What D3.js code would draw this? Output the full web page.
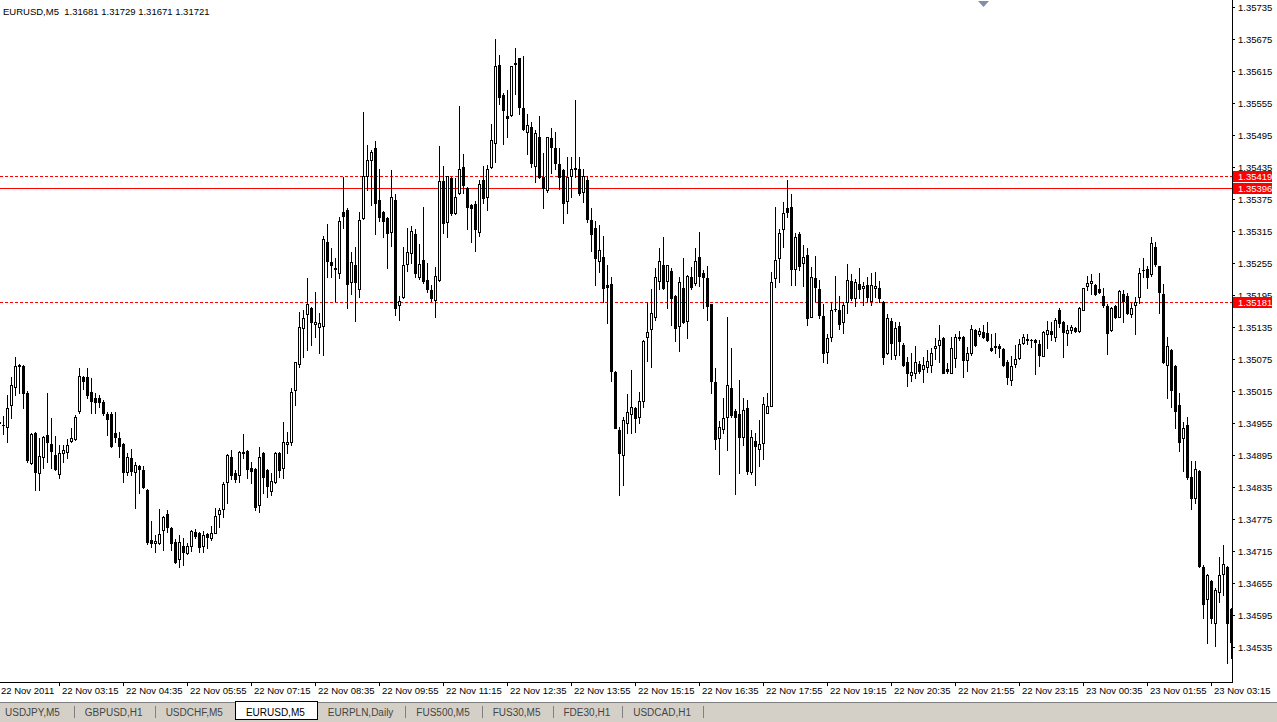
<!DOCTYPE html>
<html>
<head>
<meta charset="utf-8">
<script src="https://cdn.jsdelivr.net/npm/d3@7"></script>
<style>
  body { margin: 0; background: #fff; overflow: hidden; }
  svg text { font-family: "Liberation Sans", Arial, sans-serif; }
</style>
</head>
<body>
<svg id="chart" width="1277" height="722"></svg>
<script>
// EURUSD M5 bars
const opens = [
  1.34955, 1.34951, 1.34947, 1.34989, 1.35022, 1.35062, 1.35062, 1.35012, 1.34880, 1.34936,
  1.34861, 1.34891, 1.34932, 1.34916, 1.34895, 1.34859, 1.34899, 1.34901, 1.34921, 1.34925,
  1.34977, 1.35041, 1.35041, 1.35013, 1.35002, 1.35002, 1.34994, 1.34972, 1.34972, 1.34936,
  1.34927, 1.34916, 1.34863, 1.34889, 1.34863, 1.34874, 1.34867, 1.34829, 1.34736, 1.34730,
  1.34730, 1.34754, 1.34784, 1.34758, 1.34732, 1.34700, 1.34724, 1.34711, 1.34724, 1.34751,
  1.34749, 1.34724, 1.34747, 1.34739, 1.34749, 1.34784, 1.34794, 1.34844, 1.34891, 1.34861,
  1.34857, 1.34899, 1.34902, 1.34871, 1.34869, 1.34801, 1.34899, 1.34867, 1.34827, 1.34844,
  1.34899, 1.34871, 1.34916, 1.34919, 1.35017, 1.35066, 1.35133, 1.35159, 1.35171, 1.35141,
  1.35135, 1.35137, 1.35294, 1.35257, 1.35246, 1.35236, 1.35351, 1.35354, 1.35219, 1.35251,
  1.35206, 1.35339, 1.35418, 1.35448, 1.35471, 1.35373, 1.35351, 1.35339, 1.35313, 1.35373,
  1.35176, 1.35191, 1.35253, 1.35274, 1.35309, 1.35229, 1.35261, 1.35223, 1.35204, 1.35186,
  1.35223, 1.35409, 1.35332, 1.35414, 1.35349, 1.35386, 1.35435, 1.35396, 1.35364, 1.35366,
  1.35313, 1.35411, 1.35379, 1.35435, 1.35480, 1.35626, 1.35570, 1.35531, 1.35532, 1.35629,
  1.35639, 1.35546, 1.35501, 1.35510, 1.35437, 1.35491, 1.35416, 1.35392, 1.35489, 1.35471,
  1.35441, 1.35429, 1.35371, 1.35418, 1.35432, 1.35431, 1.35388, 1.35411, 1.35336, 1.35321,
  1.35259, 1.35266, 1.35214, 1.35216, 1.35051, 1.34942, 1.34895, 1.34955, 1.34972, 1.34983,
  1.34966, 1.34996, 1.35116, 1.35131, 1.35154, 1.35221, 1.35251, 1.35221, 1.35240, 1.35193,
  1.35137, 1.35208, 1.35146, 1.35229, 1.35217, 1.35266, 1.35236, 1.35227, 1.35178, 1.35032,
  1.34927, 1.34944, 1.34966, 1.35021, 1.34977, 1.34972, 1.34929, 1.34983, 1.34863, 1.34921,
  1.34906, 1.34917, 1.34974, 1.34987, 1.35227, 1.35264, 1.35319, 1.35358, 1.35360, 1.35244,
  1.35309, 1.35255, 1.35270, 1.35154, 1.35227, 1.35206, 1.35156, 1.35088, 1.35116, 1.35168,
  1.35167, 1.35144, 1.35182, 1.35221, 1.35189, 1.35216, 1.35208, 1.35214, 1.35184, 1.35208,
  1.35208, 1.35182, 1.35086, 1.35146, 1.35082, 1.35137, 1.35101, 1.35069, 1.35045, 1.35049,
  1.35066, 1.35056, 1.35060, 1.35064, 1.35096, 1.35101, 1.35114, 1.35056, 1.35049, 1.35077,
  1.35116, 1.35116, 1.35073, 1.35086, 1.35129, 1.35122, 1.35126, 1.35124, 1.35096, 1.35098,
  1.35099, 1.35094, 1.35069, 1.35036, 1.35066, 1.35077, 1.35105, 1.35111, 1.35111, 1.35111,
  1.35103, 1.35081, 1.35122, 1.35127, 1.35116, 1.35167, 1.35144, 1.35124, 1.35129, 1.35133,
  1.35127, 1.35167, 1.35212, 1.35217, 1.35214, 1.35206, 1.35193, 1.35174, 1.35129, 1.35174,
  1.35154, 1.35197, 1.35193, 1.35159, 1.35176, 1.35191, 1.35241, 1.35244, 1.35234, 1.35285,
  1.35249, 1.35197, 1.35064, 1.35092, 1.35062, 1.34989, 1.34927, 1.34951, 1.34854, 1.34814,
  1.34865, 1.34685, 1.34625, 1.34659, 1.34580, 1.34638, 1.34672, 1.34685, 1.34606
]
const highs = [
  1.34970, 1.34968, 1.35007, 1.35041, 1.35079, 1.35066, 1.35064, 1.35015, 1.34936, 1.34938,
  1.34927, 1.34930, 1.35011, 1.34964, 1.34931, 1.34914, 1.34914, 1.34925, 1.34946, 1.34970,
  1.35058, 1.35043, 1.35058, 1.35039, 1.35011, 1.35007, 1.34998, 1.34976, 1.34976, 1.34976,
  1.34938, 1.34917, 1.34899, 1.34906, 1.34882, 1.34876, 1.34874, 1.34831, 1.34771, 1.34745,
  1.34794, 1.34780, 1.34792, 1.34760, 1.34737, 1.34745, 1.34739, 1.34730, 1.34754, 1.34756,
  1.34751, 1.34752, 1.34749, 1.34762, 1.34796, 1.34796, 1.34844, 1.34896, 1.34904, 1.34867,
  1.34902, 1.34934, 1.34904, 1.34882, 1.34871, 1.34910, 1.34901, 1.34868, 1.34861, 1.34901,
  1.34901, 1.34957, 1.34938, 1.35021, 1.35070, 1.35163, 1.35167, 1.35227, 1.35172, 1.35201,
  1.35161, 1.35306, 1.35328, 1.35283, 1.35264, 1.35341, 1.35416, 1.35358, 1.35276, 1.35285,
  1.35351, 1.35538, 1.35476, 1.35467, 1.35484, 1.35431, 1.35352, 1.35341, 1.35429, 1.35384,
  1.35193, 1.35285, 1.35321, 1.35324, 1.35319, 1.35291, 1.35360, 1.35255, 1.35214, 1.35247,
  1.35474, 1.35437, 1.35419, 1.35416, 1.35414, 1.35549, 1.35459, 1.35397, 1.35366, 1.35371,
  1.35411, 1.35437, 1.35439, 1.35516, 1.35675, 1.35645, 1.35574, 1.35579, 1.35625, 1.35658,
  1.35640, 1.35643, 1.35534, 1.35519, 1.35504, 1.35531, 1.35461, 1.35492, 1.35508, 1.35501,
  1.35471, 1.35431, 1.35454, 1.35454, 1.35561, 1.35454, 1.35431, 1.35418, 1.35358, 1.35334,
  1.35326, 1.35306, 1.35251, 1.35229, 1.35052, 1.34947, 1.34966, 1.35009, 1.35054, 1.34985,
  1.35013, 1.35110, 1.35182, 1.35206, 1.35246, 1.35283, 1.35304, 1.35252, 1.35246, 1.35195,
  1.35229, 1.35264, 1.35232, 1.35247, 1.35283, 1.35313, 1.35242, 1.35249, 1.35179, 1.35058,
  1.34959, 1.35002, 1.35154, 1.35096, 1.34981, 1.35036, 1.35002, 1.34998, 1.34942, 1.34936,
  1.34961, 1.35004, 1.35011, 1.35238, 1.35360, 1.35319, 1.35369, 1.35411, 1.35384, 1.35311,
  1.35313, 1.35289, 1.35283, 1.35247, 1.35268, 1.35223, 1.35178, 1.35122, 1.35182, 1.35231,
  1.35193, 1.35182, 1.35253, 1.35234, 1.35225, 1.35246, 1.35219, 1.35229, 1.35236, 1.35238,
  1.35221, 1.35184, 1.35159, 1.35152, 1.35144, 1.35144, 1.35105, 1.35079, 1.35086, 1.35099,
  1.35071, 1.35079, 1.35092, 1.35096, 1.35114, 1.35139, 1.35116, 1.35067, 1.35116, 1.35122,
  1.35127, 1.35118, 1.35097, 1.35139, 1.35131, 1.35133, 1.35139, 1.35144, 1.35122, 1.35124,
  1.35103, 1.35096, 1.35073, 1.35081, 1.35101, 1.35112, 1.35122, 1.35122, 1.35112, 1.35112,
  1.35111, 1.35127, 1.35146, 1.35144, 1.35152, 1.35171, 1.35146, 1.35139, 1.35139, 1.35135,
  1.35172, 1.35209, 1.35231, 1.35234, 1.35215, 1.35236, 1.35208, 1.35178, 1.35172, 1.35176,
  1.35204, 1.35204, 1.35199, 1.35180, 1.35191, 1.35246, 1.35264, 1.35249, 1.35304, 1.35294,
  1.35250, 1.35216, 1.35116, 1.35093, 1.35063, 1.35011, 1.34957, 1.34966, 1.34884, 1.34884,
  1.34867, 1.34689, 1.34671, 1.34660, 1.34646, 1.34704, 1.34726, 1.34686, 1.34608
]
const lows = [
  1.34942, 1.34934, 1.34919, 1.34964, 1.35007, 1.35011, 1.34983, 1.34882, 1.34879, 1.34829,
  1.34829, 1.34871, 1.34882, 1.34871, 1.34867, 1.34852, 1.34882, 1.34889, 1.34919, 1.34923,
  1.34974, 1.35019, 1.35002, 1.34974, 1.34974, 1.34985, 1.34970, 1.34932, 1.34910, 1.34919,
  1.34891, 1.34844, 1.34857, 1.34857, 1.34796, 1.34824, 1.34833, 1.34728, 1.34722, 1.34713,
  1.34729, 1.34717, 1.34751, 1.34717, 1.34693, 1.34685, 1.34689, 1.34709, 1.34715, 1.34739,
  1.34713, 1.34713, 1.34721, 1.34736, 1.34748, 1.34760, 1.34779, 1.34805, 1.34850, 1.34844,
  1.34844, 1.34889, 1.34852, 1.34842, 1.34792, 1.34788, 1.34824, 1.34816, 1.34820, 1.34842,
  1.34854, 1.34852, 1.34899, 1.34914, 1.34989, 1.35060, 1.35079, 1.35092, 1.35101, 1.35116,
  1.35086, 1.35082, 1.35229, 1.35229, 1.35184, 1.35227, 1.35321, 1.35171, 1.35197, 1.35146,
  1.35191, 1.35337, 1.35392, 1.35364, 1.35309, 1.35334, 1.35304, 1.35246, 1.35287, 1.35157,
  1.35148, 1.35190, 1.35240, 1.35255, 1.35229, 1.35225, 1.35217, 1.35201, 1.35184, 1.35154,
  1.35221, 1.35311, 1.35304, 1.35345, 1.35347, 1.35384, 1.35386, 1.35319, 1.35294, 1.35277,
  1.35306, 1.35367, 1.35354, 1.35434, 1.35444, 1.35553, 1.35478, 1.35491, 1.35531, 1.35572,
  1.35534, 1.35505, 1.35459, 1.35435, 1.35407, 1.35414, 1.35358, 1.35388, 1.35424, 1.35431,
  1.35394, 1.35330, 1.35349, 1.35379, 1.35416, 1.35382, 1.35369, 1.35332, 1.35277, 1.35214,
  1.35238, 1.35182, 1.35142, 1.35034, 1.34945, 1.34820, 1.34839, 1.34936, 1.34936, 1.34938,
  1.34955, 1.34985, 1.35071, 1.35060, 1.35148, 1.35206, 1.35206, 1.35171, 1.35139, 1.35109,
  1.35090, 1.35142, 1.35114, 1.35206, 1.35214, 1.35212, 1.35171, 1.35148, 1.35011, 1.34906,
  1.34859, 1.34936, 1.34904, 1.34966, 1.34822, 1.34861, 1.34914, 1.34859, 1.34859, 1.34839,
  1.34874, 1.34887, 1.34973, 1.34986, 1.35210, 1.35219, 1.35285, 1.35341, 1.35214, 1.35214,
  1.35242, 1.35212, 1.35139, 1.35153, 1.35184, 1.35152, 1.35069, 1.35067, 1.35109, 1.35165,
  1.35131, 1.35124, 1.35161, 1.35186, 1.35174, 1.35189, 1.35176, 1.35182, 1.35176, 1.35191,
  1.35182, 1.35066, 1.35085, 1.35075, 1.35075, 1.35082, 1.35062, 1.35024, 1.35034, 1.35039,
  1.35049, 1.35032, 1.35051, 1.35051, 1.35075, 1.35069, 1.35048, 1.35049, 1.35048, 1.35060,
  1.35111, 1.35041, 1.35052, 1.35082, 1.35100, 1.35118, 1.35114, 1.35109, 1.35090, 1.35086,
  1.35079, 1.35062, 1.35028, 1.35026, 1.35060, 1.35075, 1.35103, 1.35103, 1.35097, 1.35047,
  1.35062, 1.35080, 1.35096, 1.35111, 1.35109, 1.35135, 1.35079, 1.35101, 1.35124, 1.35126,
  1.35126, 1.35166, 1.35204, 1.35197, 1.35195, 1.35199, 1.35172, 1.35084, 1.35127, 1.35152,
  1.35153, 1.35144, 1.35159, 1.35154, 1.35122, 1.35180, 1.35229, 1.35208, 1.35231, 1.35249,
  1.35161, 1.35068, 1.35002, 1.34985, 1.34946, 1.34902, 1.34865, 1.34850, 1.34794, 1.34805,
  1.34685, 1.34589, 1.34542, 1.34580, 1.34537, 1.34619, 1.34632, 1.34505, 1.34514
]
const closes = [
  1.34957, 1.34951, 1.34983, 1.35026, 1.35062, 1.35064, 1.35011, 1.34886, 1.34934, 1.34863,
  1.34893, 1.34929, 1.34919, 1.34902, 1.34869, 1.34899, 1.34904, 1.34914, 1.34927, 1.34966,
  1.35043, 1.35034, 1.35007, 1.34996, 1.34994, 1.34994, 1.34974, 1.34962, 1.34912, 1.34929,
  1.34912, 1.34863, 1.34891, 1.34865, 1.34876, 1.34869, 1.34835, 1.34732, 1.34730, 1.34734,
  1.34747, 1.34779, 1.34760, 1.34730, 1.34694, 1.34732, 1.34713, 1.34724, 1.34752, 1.34743,
  1.34722, 1.34745, 1.34741, 1.34749, 1.34781, 1.34792, 1.34841, 1.34895, 1.34857, 1.34850,
  1.34901, 1.34901, 1.34869, 1.34865, 1.34797, 1.34891, 1.34854, 1.34837, 1.34846, 1.34899,
  1.34867, 1.34919, 1.34919, 1.35013, 1.35069, 1.35135, 1.35152, 1.35178, 1.35144, 1.35144,
  1.35142, 1.35300, 1.35259, 1.35251, 1.35244, 1.35334, 1.35343, 1.35216, 1.35257, 1.35219,
  1.35336, 1.35418, 1.35448, 1.35463, 1.35367, 1.35341, 1.35334, 1.35311, 1.35379, 1.35171,
  1.35184, 1.35251, 1.35276, 1.35315, 1.35236, 1.35253, 1.35221, 1.35206, 1.35189, 1.35231,
  1.35409, 1.35330, 1.35418, 1.35349, 1.35379, 1.35431, 1.35401, 1.35360, 1.35358, 1.35319,
  1.35403, 1.35377, 1.35431, 1.35486, 1.35624, 1.35566, 1.35542, 1.35527, 1.35624, 1.35630,
  1.35547, 1.35506, 1.35514, 1.35442, 1.35499, 1.35416, 1.35396, 1.35491, 1.35472, 1.35442,
  1.35416, 1.35367, 1.35416, 1.35431, 1.35433, 1.35386, 1.35418, 1.35337, 1.35309, 1.35264,
  1.35279, 1.35208, 1.35210, 1.35052, 1.34946, 1.34899, 1.34961, 1.34976, 1.34985, 1.34964,
  1.34996, 1.35109, 1.35126, 1.35161, 1.35229, 1.35259, 1.35208, 1.35251, 1.35189, 1.35133,
  1.35219, 1.35144, 1.35231, 1.35210, 1.35259, 1.35231, 1.35229, 1.35174, 1.35034, 1.34925,
  1.34947, 1.34964, 1.35026, 1.34970, 1.34966, 1.34929, 1.34979, 1.34865, 1.34929, 1.34912,
  1.34916, 1.34991, 1.34987, 1.35219, 1.35261, 1.35311, 1.35349, 1.35351, 1.35244, 1.35304,
  1.35249, 1.35266, 1.35152, 1.35229, 1.35210, 1.35157, 1.35086, 1.35114, 1.35167, 1.35169,
  1.35141, 1.35176, 1.35223, 1.35189, 1.35219, 1.35206, 1.35212, 1.35191, 1.35214, 1.35212,
  1.35189, 1.35079, 1.35152, 1.35105, 1.35133, 1.35109, 1.35064, 1.35049, 1.35051, 1.35069,
  1.35052, 1.35064, 1.35071, 1.35086, 1.35099, 1.35111, 1.35049, 1.35052, 1.35096, 1.35116,
  1.35114, 1.35073, 1.35086, 1.35131, 1.35101, 1.35127, 1.35116, 1.35111, 1.35092, 1.35099,
  1.35096, 1.35064, 1.35041, 1.35062, 1.35075, 1.35103, 1.35116, 1.35112, 1.35111, 1.35107,
  1.35082, 1.35126, 1.35129, 1.35122, 1.35148, 1.35142, 1.35126, 1.35129, 1.35135, 1.35127,
  1.35171, 1.35208, 1.35217, 1.35221, 1.35197, 1.35201, 1.35176, 1.35124, 1.35171, 1.35154,
  1.35202, 1.35184, 1.35161, 1.35171, 1.35182, 1.35236, 1.35242, 1.35229, 1.35292, 1.35253,
  1.35201, 1.35069, 1.35099, 1.35017, 1.34977, 1.34919, 1.34946, 1.34854, 1.34814, 1.34869,
  1.34687, 1.34616, 1.34670, 1.34589, 1.34642, 1.34670, 1.34691, 1.34580, 1.34544
]

const firstBar = new Date(2011, 10, 22, 2, 0)
const barMinutes = 5

const priceTicks = [
  1.35735, 1.35675, 1.35615, 1.35555, 1.35495, 1.35435, 1.35375, 1.35315, 1.35255, 1.35195, 1.35135,
  1.35075, 1.35015, 1.34955, 1.34895, 1.34835, 1.34775, 1.34715, 1.34655, 1.34595, 1.34535
]
const timeTicks = [
  "22 Nov 2011", "22 Nov 03:15", "22 Nov 04:35", "22 Nov 05:55", "22 Nov 07:15", "22 Nov 08:35",
  "22 Nov 09:55", "22 Nov 11:15", "22 Nov 12:35", "22 Nov 13:55", "22 Nov 15:15", "22 Nov 16:35",
  "22 Nov 17:55", "22 Nov 19:15", "22 Nov 20:35", "22 Nov 21:55", "22 Nov 23:15", "23 Nov 00:35",
  "23 Nov 01:55", "23 Nov 03:15"
]
const firstTick = new Date(2011, 10, 22, 1, 55)
const tickMinutes = 80

const levels = [1.35419, 1.35396, 1.35181]
const levelDashed = [true, false, true]

const header = "EURUSD,M5  1.31681 1.31729 1.31671 1.31721"
const tabs = ["USDJPY,M5", "GBPUSD,H1", "USDCHF,M5", "EURUSD,M5", "EURPLN,Daily", "FUS500,M5", "FUS30,M5", "FDE30,H1", "USDCAD,H1"]
const activeTab = 3

const plotRight = 1232
const plotBottom = 682

const svg = d3.select("#chart")
const times = opens.map((d, i) => d3.timeMinute.offset(firstBar, i * barMinutes))

const x = d3.scaleTime()
  .domain([times[0], times[times.length - 1]])
  .range([-0.5, 4 * (times.length - 1) - 0.5])
const y = d3.scaleLinear()
  .domain([1.34475, 1.35735])
  .range([679, 7])

svg.append("rect").attr("width", 1277).attr("height", 722).attr("fill", "#fff")

svg.append("clipPath").attr("id", "plot")
  .append("rect").attr("x", 0).attr("y", 0).attr("width", plotRight).attr("height", plotBottom)

// level lines (drawn under the bars)
const lines = svg.append("g").attr("shape-rendering", "crispEdges")
levels.forEach((lv, i) => {
  lines.append("line")
    .attr("x1", 0).attr("x2", plotRight)
    .attr("y1", Math.round(y(lv)) + 0.5).attr("y2", Math.round(y(lv)) + 0.5)
    .attr("stroke", "#ff0000")
    .attr("stroke-dasharray", levelDashed[i] ? "3,2" : null)
})

// candles
const bars = svg.append("g").attr("clip-path", "url(#plot)").attr("shape-rendering", "crispEdges")
opens.forEach((o, i) => {
  const c = closes[i]
  const cx = Math.round(x(times[i]) - 0.5)
  const yh = Math.round(y(highs[i]))
  const yl = Math.round(y(lows[i]))
  const top = Math.round(y(Math.max(o, c)))
  const bot = Math.round(y(Math.min(o, c)))
  bars.append("rect")
    .attr("x", cx).attr("y", yh).attr("width", 1).attr("height", yl - yh + 1)
    .attr("fill", "#000")
  bars.append("rect")
    .attr("x", cx - 1).attr("y", top).attr("width", 3).attr("height", bot - top + 1)
    .attr("fill", "#000")
  if (c > o && bot - top >= 2) {
    bars.append("rect")
      .attr("x", cx).attr("y", top + 1).attr("width", 1).attr("height", bot - top - 1)
      .attr("fill", "#fff")
  }
})

// frame
const frame = svg.append("g").attr("shape-rendering", "crispEdges")
frame.append("line")
  .attr("x1", plotRight + 0.5).attr("x2", plotRight + 0.5)
  .attr("y1", 0).attr("y2", plotBottom + 1)
  .attr("stroke", "#000")
frame.append("line")
  .attr("x1", 0).attr("x2", plotRight + 1)
  .attr("y1", plotBottom + 0.5).attr("y2", plotBottom + 0.5)
  .attr("stroke", "#000")

// price axis
const yAxis = svg.append("g")
priceTicks.forEach(p => {
  const ty = Math.round(y(p))
  yAxis.append("rect")
    .attr("x", plotRight + 1).attr("y", ty).attr("width", 2).attr("height", 1)
    .attr("fill", "#000").attr("shape-rendering", "crispEdges")
  yAxis.append("text")
    .attr("x", plotRight + 6).attr("y", ty + 3.5)
    .attr("font-size", 9.5).attr("fill", "#000")
    .text(d3.format(".5f")(p))
})

// level price labels
levels.forEach(lv => {
  const ty = Math.round(y(lv))
  yAxis.append("rect")
    .attr("x", plotRight + 1).attr("y", ty - 5).attr("width", 39).attr("height", 11)
    .attr("fill", "#ff0000").attr("shape-rendering", "crispEdges")
  yAxis.append("text")
    .attr("x", plotRight + 6).attr("y", ty + 3.5)
    .attr("font-size", 9.5).attr("fill", "#fff")
    .text(d3.format(".5f")(lv))
})

// time axis
const xAxis = svg.append("g")
timeTicks.forEach((label, j) => {
  const tx = Math.round(x(d3.timeMinute.offset(firstTick, j * tickMinutes)) - 0.5)
  xAxis.append("rect")
    .attr("x", tx).attr("y", plotBottom + 1).attr("width", 1).attr("height", 3)
    .attr("fill", "#000").attr("shape-rendering", "crispEdges")
  xAxis.append("text")
    .attr("x", Math.max(1, tx + 3)).attr("y", plotBottom + 12)
    .attr("font-size", 9.5).attr("fill", "#000")
    .text(label)
})

// header
svg.append("text")
  .attr("x", 3).attr("y", 15)
  .attr("font-size", 9.5).attr("fill", "#000")
  .attr("xml:space", "preserve")
  .text(header)

// shift marker
svg.append("path")
  .attr("d", "M978,1 L989,1 L983.5,7 Z")
  .attr("fill", "#8090a8")

// tabs
const tabBar = svg.append("g").attr("transform", "translate(0,702)")
tabBar.append("rect").attr("width", 1277).attr("height", 20).attr("fill", "#d4d0c8")
tabBar.append("line")
  .attr("x1", 0).attr("x2", 1277).attr("y1", 0.5).attr("y2", 0.5)
  .attr("stroke", "#808080").attr("shape-rendering", "crispEdges")
let cursor = 0
tabs.forEach((name, i) => {
  const t = tabBar.append("text")
    .attr("y", 14).attr("font-size", 10)
    .attr("fill", i === activeTab ? "#000" : "#444")
    .text(name)
  const w = t.node().getComputedTextLength() + 23
  if (i === activeTab) {
    tabBar.insert("rect", "text")
      .attr("x", cursor + 0.5).attr("y", -0.5).attr("width", w).attr("height", 18)
      .attr("fill", "#fff").attr("stroke", "#000").attr("shape-rendering", "crispEdges")
  }
  t.attr("x", cursor + 11 - (i === 0 ? 6 : 0))
  cursor += w - (i === 0 ? 4 : 0)
  if (i !== activeTab && i + 1 !== activeTab) {
    tabBar.append("rect")
      .attr("x", cursor).attr("y", 4).attr("width", 1).attr("height", 12)
      .attr("fill", "#808080").attr("shape-rendering", "crispEdges")
  }
})
</script>
</body>
</html>
